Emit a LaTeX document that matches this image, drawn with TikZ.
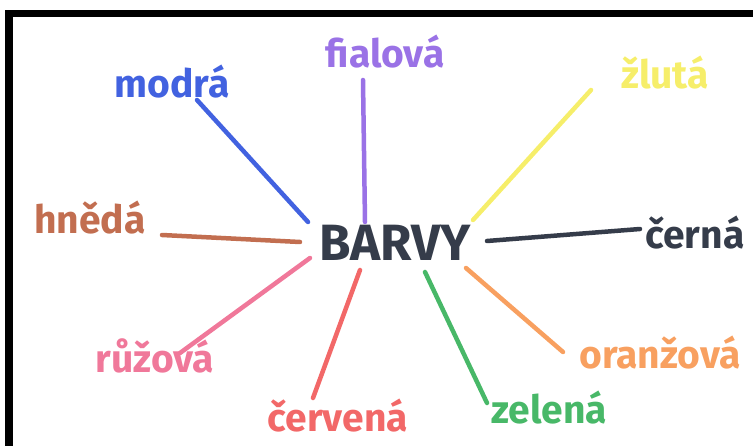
\documentclass[tikz,border=0pt]{standalone}
\usepackage{fontspec}
\setmainfont{Fira Sans}

\definecolor{cblue}{HTML}{4262E0}
\definecolor{cpurple}{HTML}{9A72E6}
\definecolor{cyellow}{HTML}{F6EE6A}
\definecolor{cbrown}{HTML}{C26E50}
\definecolor{cdark}{HTML}{353C4A}
\definecolor{cpink}{HTML}{F0789A}
\definecolor{cred}{HTML}{F26868}
\definecolor{cgreen}{HTML}{48B868}
\definecolor{corange}{HTML}{F8A060}

\tikzset{
  word/.style={font=\fontsize{39}{42}\selectfont\bfseries, inner sep=0pt},
  stroke/.style={line width=4.5pt, line cap=round}
}

\begin{document}
\begin{tikzpicture}[x=1pt,y=-1pt]
\useasboundingbox (0,0) rectangle (753,446);
% frame
\fill[black] (5,10) rectangle (753,17);
\fill[black] (5,10) rectangle (13,446);

\node[font=\fontsize{51}{55}\selectfont\bfseries, text=cdark, inner sep=0pt] (barvy) at (395,243) {BARVY};

\node[word, text=cpurple] (fialova) at (385,52) {fialová};
\node[word, text=cblue] (modra) at (172,82) {modrá};
\node[word, text=cyellow] (zluta) at (665,73) {žlutá};
\node[word, text=cbrown] (hneda) at (90,218) {hnědá};
\node[word, text=cdark] (cerna) at (695,233) {černá};
\node[word, text=cpink] (ruzova) at (155,356) {růžová};
\node[word, text=cred] (cervena) at (338,416) {červená};
\node[word, text=cgreen] (zelena) at (549,408) {zelená};
\node[word, text=corange] (oranzova) at (660,353) {oranžová};

% line ends
\coordinate (f1) at (363,80);  \coordinate (f2) at (365,222);
\coordinate (m1) at (197,100); \coordinate (m2) at (308,222);
\coordinate (z1) at (591,90);  \coordinate (z2) at (473,220);
\coordinate (h1) at (162,235); \coordinate (h2) at (300,242);
\coordinate (c1) at (640,229); \coordinate (c2) at (487,241);
\coordinate (r1) at (180,353); \coordinate (r2) at (310,258);
\coordinate (v1) at (313,398); \coordinate (v2) at (360,270);
\coordinate (g1) at (487,403); \coordinate (g2) at (425,272);
\coordinate (o1) at (563,352); \coordinate (o2) at (466,268);

\draw[stroke, cpurple] (f1) -- (f2);
\draw[stroke, cblue] (m1) -- (m2);
\draw[stroke, cyellow] (z1) -- (z2);
\draw[stroke, cbrown] (h1) -- (h2);
\draw[stroke, cdark] (c1) -- (c2);
\draw[stroke, cpink] (r1) -- (r2);
\draw[stroke, cred] (v1) -- (v2);
\draw[stroke, cgreen] (g1) -- (g2);
\draw[stroke, corange] (o1) -- (o2);
\end{tikzpicture}
\end{document}
